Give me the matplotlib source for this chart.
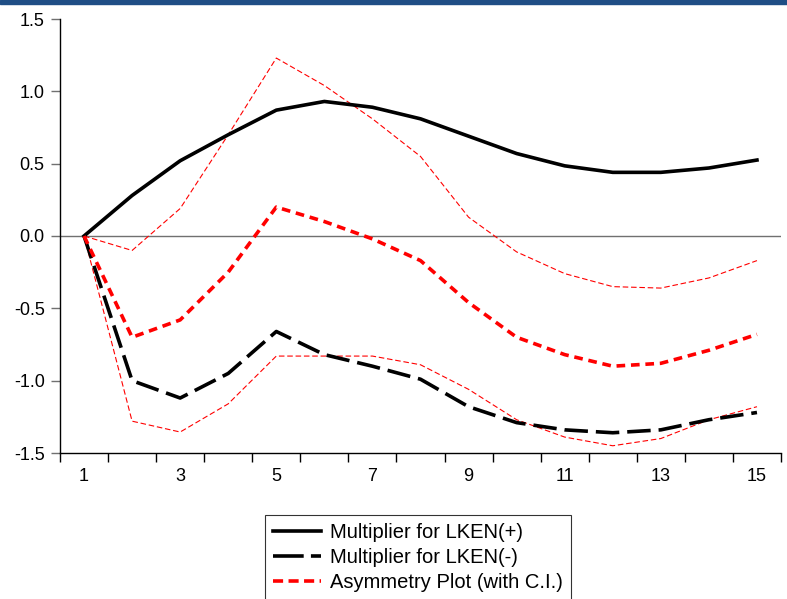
import matplotlib
matplotlib.use("Agg")
import matplotlib.pyplot as plt
from matplotlib.patches import Rectangle
from matplotlib.lines import Line2D

plt.rcParams['font.family'] = ['Liberation Sans', 'DejaVu Sans']

# horizon periods
periods = list(range(1, 16))

# cumulative dynamic multipliers
mult_pos = [0.0, 0.28, 0.52, 0.70, 0.87, 0.93, 0.89, 0.81, 0.69, 0.57, 0.485, 0.44, 0.44, 0.47, 0.525]
mult_neg = [0.0, -1.00, -1.12, -0.95, -0.66, -0.82, -0.90, -0.99, -1.18, -1.29, -1.34, -1.36, -1.34, -1.27, -1.22]
asym = [0.0, -0.70, -0.58, -0.25, 0.20, 0.10, -0.02, -0.17, -0.46, -0.70, -0.82, -0.90, -0.88, -0.79, -0.68]
asym_upper = [0.0, -0.10, 0.19, 0.70, 1.23, 1.04, 0.81, 0.55, 0.13, -0.11, -0.26, -0.35, -0.36, -0.29, -0.17]
asym_lower = [0.0, -1.28, -1.355, -1.16, -0.83, -0.83, -0.83, -0.89, -1.06, -1.27, -1.39, -1.45, -1.40, -1.27, -1.18]

x_labels = [1, 3, 5, 7, 9, 11, 13, 15]
y_ticks = [-1.5, -1.0, -0.5, 0.0, 0.5, 1.0, 1.5]

fig = plt.figure(figsize=(7.87, 5.99), dpi=100)
ax = fig.add_axes([60 / 787, 1 - 453 / 599, 721 / 787, 434 / 599])

# blue band at the top
fig.patches.append(Rectangle((0, 1 - 4 / 599), 1, 4 / 599, transform=fig.transFigure,
                             color='#1F4E85', zorder=10))

ax.axhline(0, color='#707070', lw=1.0, zorder=1)

ax.plot(periods, asym_upper, color='red', lw=0.8, dashes=(5, 2.5), zorder=2)
ax.plot(periods, asym_lower, color='red', lw=0.8, dashes=(5, 2.5), zorder=2)
ax.plot(periods, mult_pos, color='black', lw=2.6, zorder=3)
ax.plot(periods, mult_neg, color='black', lw=2.6, dashes=(6.5, 2.2), zorder=3)
ax.plot(periods, asym, color='red', lw=2.6, dashes=(2.4, 1.6), zorder=4)

ax.set_xlim(0.5, 15.5)
ax.set_ylim(-1.5, 1.5)

ax.spines['top'].set_visible(False)
ax.spines['right'].set_visible(False)
ax.spines['left'].set_linewidth(1.0)
ax.spines['bottom'].set_linewidth(1.0)

ax.set_xticks(x_labels)
ax.set_xticklabels([str(v) for v in x_labels])
ax.set_xticks([p + 0.5 for p in range(0, 16)], minor=True)
ax.tick_params(axis='x', which='major', length=0, pad=11, labelsize=13)
ax.tick_params(axis='x', which='minor', length=6.5, width=1.0, direction='out')

ax.set_yticks(y_ticks)
ax.set_yticklabels([f"{v:.1f}" for v in y_ticks])
ax.tick_params(axis='y', which='major', length=6.5, width=1.0, color='#707070', pad=4.5, labelsize=13)

handles = [
    Line2D([], [], color='black', lw=2.6),
    Line2D([], [], color='black', lw=2.6, dashes=(8.5, 2.0)),
    Line2D([], [], color='red', lw=2.6, dashes=(2.8, 1.5)),
]
labels = ['Multiplier for LKEN(+)', 'Multiplier for LKEN(-)', 'Asymmetry Plot (with C.I.)']
leg = fig.legend(handles, labels, loc='upper left',
                 bbox_to_anchor=(265 / 787, 1 - 515 / 599),
                 frameon=True, fancybox=False, edgecolor='black',
                 fontsize=14.5, handlelength=2.4, handletextpad=0.45,
                 labelspacing=0.3, borderpad=0.4, borderaxespad=0)
leg.get_frame().set_linewidth(0.8)

fig.savefig('out.png', dpi=100)
